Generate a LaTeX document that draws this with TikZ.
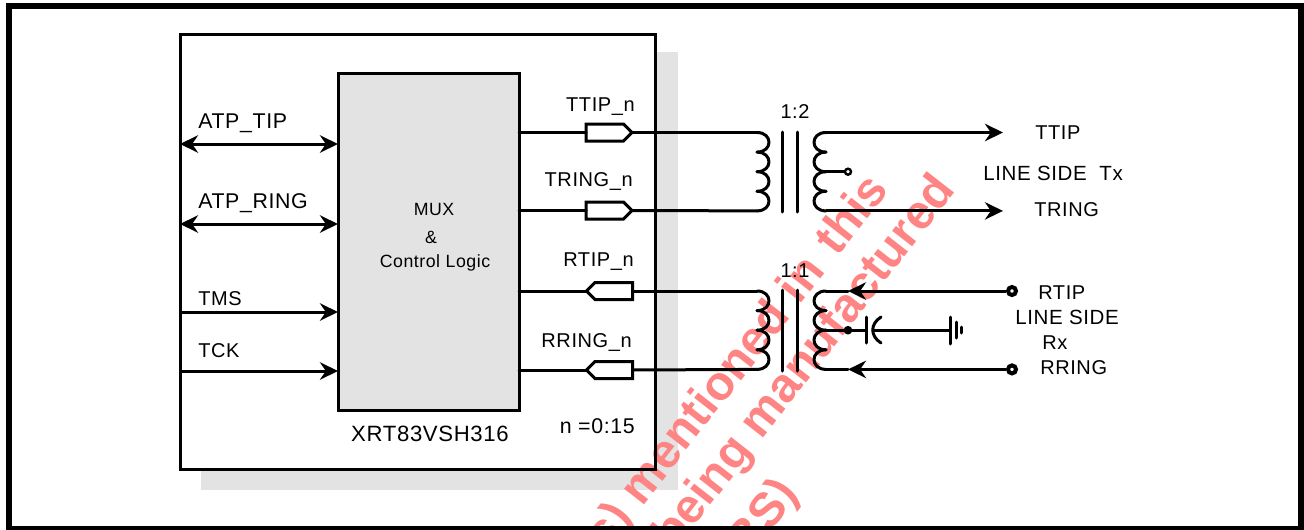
\documentclass[tikz,border=0pt]{standalone}
\usepackage{fontspec}
\usepackage{xcolor}
\setmainfont{Liberation Sans}[LetterSpace=3]
\newfontfamily\markfont{Liberation Sans Bold}
\usetikzlibrary{shapes.symbols, arrows.meta, positioning}
\definecolor{panelgray}{HTML}{E3E3E3}
\definecolor{markred}{HTML}{FF8484}

\begin{document}
\begin{tikzpicture}[
    x=0.75pt,
    y=-0.75pt,
    wire/.style={line width=2.25pt, line cap=round, line join=round},
    harrow/.style={line width=2.25pt, -{Stealth[length=13.5pt, width=13pt]}},
    darrow/.style={line width=2.25pt, {Stealth[length=13.5pt, width=13pt]}-{Stealth[length=13.5pt, width=13pt]}},
    buffer/.style={draw, line width=2.25pt, fill=white, signal, signal pointer angle=90, minimum width=34.5pt, minimum height=12.75pt, inner sep=0pt, outer sep=0pt, anchor=west},
    term/.style={draw, line width=3pt, circle, fill=white, minimum size=6pt, inner sep=0pt},
    tapdot/.style={draw, line width=1.8pt, circle, minimum size=4.5pt, inner sep=0pt},
    boxline/.style={draw, line width=2.25pt, inner sep=0pt, outer sep=0pt},
    txt/.style={inner sep=0pt, font=\fontsize{15}{18}\selectfont},
    sidetxt/.style={inner sep=0pt, font=\fontsize{15.4}{18}\selectfont},
    midtxt/.style={inner sep=0pt, font=\fontsize{16}{19}\selectfont},
    smalltxt/.style={inner sep=0pt, font=\fontsize{13.3}{16}\selectfont},
    markword/.style={inner sep=0pt, rotate=52, text=markred, anchor=base east, font=\markfont\fontsize{36}{40}\selectfont},
    coil/.pic={
        \foreach \k in {0,1,2,3} {
            \draw [wire] (0,{\k*19.6}) .. controls (16,{\k*19.6}) and (16,{\k*19.6+19.6}) .. (0,{\k*19.6+19.6});
        }
    }
]

    \useasboundingbox (0,0) rectangle (1304,529);

    \fill [panelgray] (201,52) rectangle (678,490);
    \fill [white] (180,34) rectangle (655,469);

    \begin{scope}
        \clip (12,9) rectangle (1298,529);
        \node [markword] (markone) at (890,190) {ts) mentioned in \hspace{0.1em}this};
        \node [markword] (marktwo) at (957,190) {being manufactured};
        \node [markword] (markthree) at (800,494) {BS)};
    \end{scope}

    \draw [line width=4.5pt] (9,6) rectangle (1301,529);
    \node [boxline, minimum width=356.25pt, minimum height=326.25pt] (mainbox) at (417.5,251.5) {};
    \node [boxline, fill=panelgray, minimum width=135.75pt, minimum height=252.75pt] (logic) at (428.5,241.5) {};

    \coordinate (rowtip) at (0,144);
    \coordinate (rowring) at (0,224);
    \coordinate (rowtms) at (0,312);
    \coordinate (rowtck) at (0,371);

    \draw [darrow] (mainbox.west |- rowtip) -- (logic.west |- rowtip);
    \draw [darrow] (mainbox.west |- rowring) -- (logic.west |- rowring);
    \draw [harrow] (mainbox.west |- rowtms) -- (logic.west |- rowtms);
    \draw [harrow] (mainbox.west |- rowtck) -- (logic.west |- rowtck);

    \node [midtxt, anchor=base west] (atptip) at (198,128) {ATP\_TIP};
    \node [midtxt, anchor=base west] (atpring) at (198,208) {ATP\_RING};
    \node [txt, anchor=base west] (tms) at (198,305) {TMS};
    \node [txt, anchor=base west] (tck) at (198,357) {TCK};

    \node [smalltxt, anchor=base] (mux) at (434,215) {MUX};
    \node [smalltxt, anchor=base] (amp) at (431,243) {\&};
    \node [smalltxt, anchor=base] (ctrl) at (435,267) {Control Logic};
    \node [anchor=base, inner sep=0pt, font=\fontsize{16.6}{20}\selectfont] (chip) at (430,441) {XRT83VSH316};
    \node [midtxt, anchor=base east] (range) at (635,433) {n =0:15};

    \node [buffer, signal to=east] (ttipbuf) at (586,132.5) {};
    \node [buffer, signal to=east] (tringbuf) at (586,210.5) {};
    \node [buffer, signal to=west] (rtipbuf) at (586.5,291) {};
    \node [buffer, signal to=west] (rringbuf) at (586.5,370) {};

    \node [txt, anchor=base east] (ttipn) at (635,111) {TTIP\_n};
    \node [txt, anchor=base east] (tringn) at (633,186) {TRING\_n};
    \node [txt, anchor=base east] (rtipn) at (634,266) {RTIP\_n};
    \node [txt, anchor=base east] (rringn) at (632,347) {RRING\_n};

    \coordinate (txpa) at (757,132.5);
    \coordinate (txpb) at (757,210.9);
    \coordinate (txsa) at (826,132.5);
    \coordinate (txsb) at (826,210.9);
    \coordinate (txtap) at (826,171.7);
    \coordinate (rxpa) at (757,291);
    \coordinate (rxpb) at (757,369.4);
    \coordinate (rxsa) at (826,291);
    \coordinate (rxsb) at (826,369.4);
    \coordinate (rxtap) at (826,330.2);

    \pic at (txpa) {coil};
    \pic [xscale=-1] at (txsa) {coil};
    \pic at (rxpa) {coil};
    \pic [xscale=-1] at (rxsa) {coil};

    \draw [wire] (782,132) -- (782,212);
    \draw [wire] (797,132) -- (797,212);
    \draw [wire] (782,290) -- (782,371);
    \draw [wire] (797,290) -- (797,371);

    \draw [wire] (logic.east |- ttipbuf) -- (ttipbuf.west);
    \draw [wire] (ttipbuf.east) -- (txpa);
    \draw [wire] (logic.east |- tringbuf) -- (tringbuf.west);
    \draw [wire] (tringbuf.east) -- (txpb);
    \draw [wire] (logic.east |- rtipbuf) -- (rtipbuf.west);
    \draw [wire] (rtipbuf.east) -- (rxpa);
    \draw [wire] (logic.east |- rringbuf) -- (rringbuf.west);
    \draw [wire] (rringbuf.east) -- (rxpb);

    \coordinate (ttipend) at (1003,132.5);
    \coordinate (tringend) at (1003,210.9);
    \draw [harrow] (txsa) -- (ttipend);
    \draw [harrow] (txsb) -- (tringend);
    \node [tapdot] (txdot) at (848,171.7) {};
    \draw [wire] (txtap) -- (txdot);

    \node [term] (rtipterm) at (1012,291) {};
    \node [term] (rringterm) at (1012,369.4) {};
    \coordinate (rtiphead) at (848,291);
    \coordinate (rringhead) at (848,369.4);
    \draw [harrow] (rtipterm) -- (rtiphead);
    \draw [wire] (rtiphead) -- (rxsa);
    \draw [harrow] (rringterm) -- (rringhead);
    \draw [wire] (rringhead) -- (rxsb);

    \node [circle, fill=black, minimum size=6.5pt, inner sep=0pt] (rxdot) at (848,330.2) {};
    \coordinate (capa) at (866,330.2);
    \coordinate (capb) at (873,330.2);
    \coordinate (gnd) at (950,330.2);
    \draw [wire] (rxtap) -- (capa);
    \draw [wire] (capb) -- (gnd);
    \draw [wire] (866,317) -- (866,343);
    \draw [wire] (881,317) .. controls (870,324) and (870,336) .. (881,343);
    \draw [wire] (950,317) -- (950,344);
    \draw [wire] (956,322) -- (956,338);
    \draw [wire] (961,327) -- (961,333);

    \node [txt, anchor=base] (ratiotx) at (795,118) {1:2};
    \node [txt, anchor=base] (ratiorx) at (795,277) {1:1};

    \node [txt, anchor=base west] (ttip) at (1035,139) {TTIP};
    \node [sidetxt, anchor=base west] (sidetx) at (983,180) {LINE SIDE\ \ Tx};
    \node [txt, anchor=base west] (tring) at (1034,216) {TRING};
    \node [txt, anchor=base west] (rtip) at (1038,299) {RTIP};
    \node [sidetxt, anchor=base west] (siderx) at (1015,324) {LINE SIDE};
    \node [txt, anchor=base west] (rx) at (1042,349) {Rx};
    \node [txt, anchor=base west] (rring) at (1040,374) {RRING};

\end{tikzpicture}
\end{document}
